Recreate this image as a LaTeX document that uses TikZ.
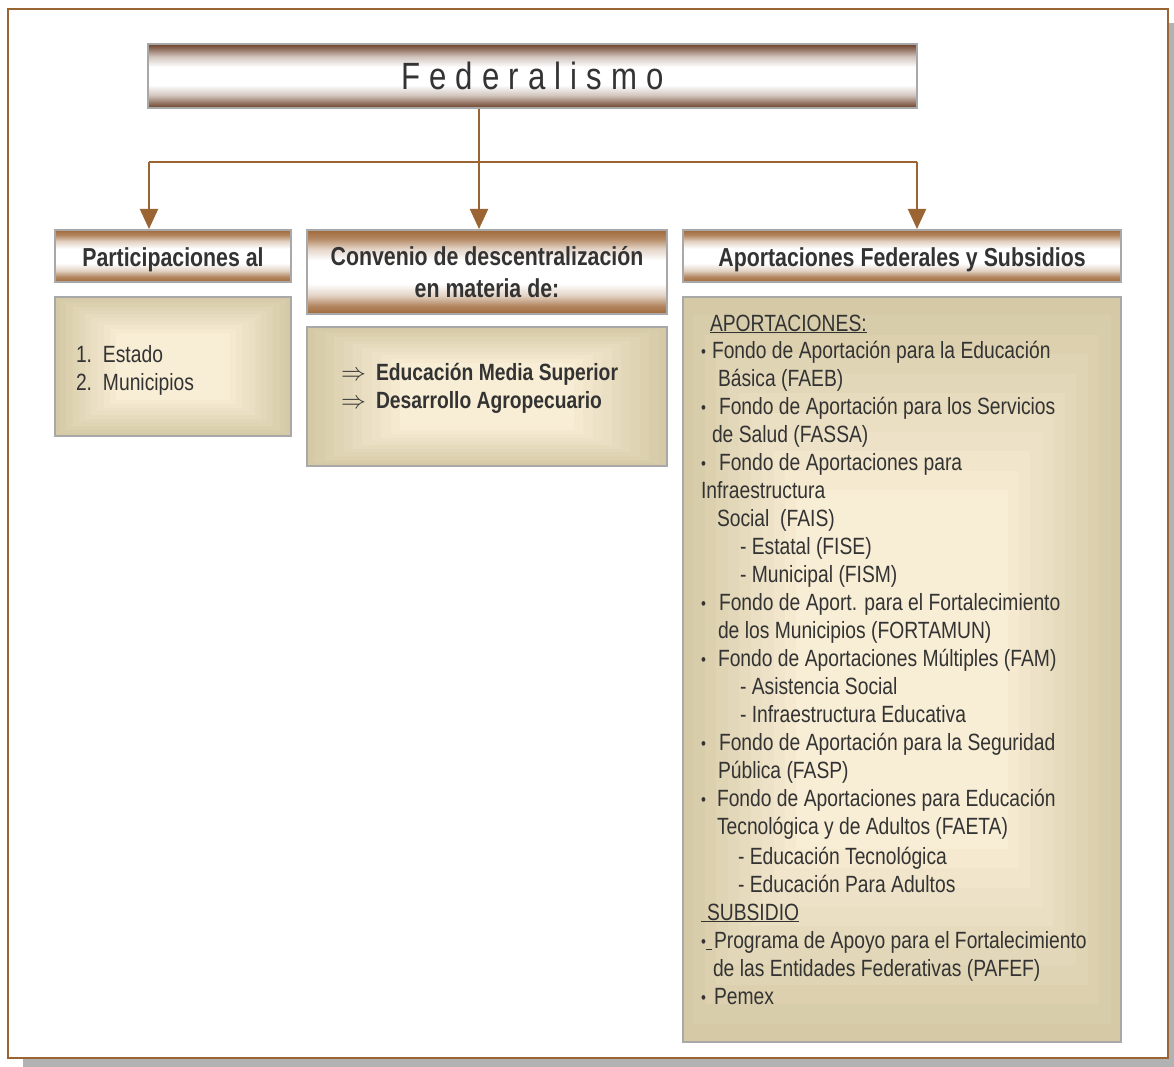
\documentclass[tikz,border=0pt]{standalone}
\usepackage{fontspec}
\setmainfont{Liberation Sans}[FakeStretch=0.82]
\newfontfamily\titlefont{Liberation Sans}[FakeStretch=0.82,LetterSpace=24]
\usetikzlibrary{arrows.meta,calc}
\definecolor{brn}{HTML}{9B6433}
\definecolor{hdrb}{HTML}{A0693A}
\definecolor{ttlb}{HTML}{6B4029}
\definecolor{boxgray}{HTML}{A8A8A8}
\definecolor{shadowgray}{HTML}{B2B2B2}
\definecolor{tanout}{HTML}{D5C9A6}
\definecolor{tanin}{HTML}{F8EDD5}
\definecolor{txt}{HTML}{333333}
\pgfdeclareverticalshading{hdrshade}{100bp}{color(0bp)=(hdrb); color(25bp)=(hdrb); color(30bp)=(hdrb!80!white); color(36bp)=(hdrb!30!white); color(43bp)=(white); color(57bp)=(white); color(64bp)=(hdrb!30!white); color(70bp)=(hdrb!80!white); color(75bp)=(hdrb); color(100bp)=(hdrb)}
\pgfdeclareverticalshading{ttlshade}{100bp}{color(0bp)=(ttlb); color(25bp)=(ttlb); color(28bp)=(ttlb!80!white); color(35bp)=(ttlb!30!white); color(43bp)=(white); color(57bp)=(white); color(65bp)=(ttlb!30!white); color(72bp)=(ttlb!80!white); color(75bp)=(ttlb); color(100bp)=(ttlb)}
\tikzset{
  conn/.style={draw=brn, line width=2pt},
  arr/.style={conn, -{Triangle[width=18pt,length=20pt]}},
  ttlbox/.style={shade, shading=ttlshade, draw=boxgray, line width=2pt, inner sep=0pt},
  hdrbox/.style={shade, shading=hdrshade, draw=boxgray, line width=2pt, inner sep=0pt, align=center, font=\fontsize{26}{32}\selectfont\bfseries},
  bodybox/.style={fill=tanout, draw=boxgray, line width=2pt, inner sep=0pt},
  bodytxt/.style={anchor=base west, inner sep=0pt, outer sep=0pt, font=\fontsize{23.5}{28}\selectfont},
}
\newcommand\bul{{\fontsize{17}{17}\selectfont\raisebox{1pt}{•}}}
\newcommand\tansteps[1]{%
  \foreach \i in {1,...,10}{%
    \pgfmathsetmacro\f{0.026*\i}%
    \pgfmathtruncatemacro\p{\i*10}%
    \fill[tanin!\p!tanout] ($(#1.north west)!\f!(#1.south east)$) rectangle ($(#1.south east)!\f!(#1.north west)$);
  }}
\begin{document}
\begin{tikzpicture}[x=1pt,y=-1pt, every node/.style={text=txt}]
\useasboundingbox (0,0) rectangle (1174,1067);
% frame
\fill[shadowgray] (23,23) rectangle (1174,1067);
\draw[brn, line width=2.5pt, fill=white] (8,9) rectangle (1168,1058);
% title
\node[ttlbox, minimum width=769pt, minimum height=64pt] (title) at (532.5,76) {\titlefont\fontsize{38}{40}\selectfont Federalismo};
% headers
\node[hdrbox, minimum width=236pt, minimum height=52pt, text height=24pt, text depth=3.4pt] (h1) at (173,256) {Participaciones al};
\node[hdrbox, minimum width=360pt, minimum height=84pt] (h2) at (487,272) {Convenio de descentralización\\en materia de:};
\node[hdrbox, minimum width=438pt, minimum height=52pt, text height=24pt, text depth=3.4pt] (h3) at (902,256) {Aportaciones Federales y Subsidios};
% connectors
\coordinate (j1) at (149,162);
\coordinate (j2) at (479,162);
\coordinate (j3) at (917,162);
\draw[conn] (j2 |- title.south) -- (j2);
\draw[conn] (j1) -- (j3);
\draw[arr] (j1) -- (j1 |- h1.north);
\draw[arr] (j2) -- (j2 |- h2.north);
\draw[arr] (j3) -- (j3 |- h3.north);
% bodies
\node[bodybox, minimum width=236pt, minimum height=139pt] (b1) at (173,366.5) {};
\tansteps{b1}
\node[bodybox, minimum width=360pt, minimum height=139pt] (b2) at (487,396.5) {};
\tansteps{b2}
\node[bodybox, minimum width=438pt, minimum height=745pt] (b3) at (902,669.5) {};
\tansteps{b3}
% body 1
\node[bodytxt] (p1) at (76,362) {\makebox[27pt][l]{1.}Estado};
\node[bodytxt] (p2) at (76,390) {\makebox[27pt][l]{2.}Municipios};
% body 2
\node[bodytxt, font=\fontsize{23.5}{28}\selectfont\bfseries] (c1) at (341,380) {\makebox[35pt][l]{$\Rightarrow$}Educación Media Superior};
\node[bodytxt, font=\fontsize{23.5}{28}\selectfont\bfseries] (c2) at (341,408) {\makebox[35pt][l]{$\Rightarrow$}Desarrollo Agropecuario};
% body 3
\node[bodytxt] (a1) at (710,331) {\underline{APORTACIONES:}};
\node[bodytxt] (a2) at (701,358) {\makebox[11pt][l]{\bul}Fondo de Aportación para la Educación};
\node[bodytxt] (a3) at (718,386) {Básica (FAEB)};
\node[bodytxt] (a4) at (701,414) {\makebox[18pt][l]{\bul}Fondo de Aportación para los Servicios};
\node[bodytxt] (a5) at (712,442) {de Salud (FASSA)};
\node[bodytxt] (a6) at (701,470) {\makebox[18pt][l]{\bul}Fondo de Aportaciones para};
\node[bodytxt] (a7) at (701,498) {Infraestructura};
\node[bodytxt] (a8) at (717,526) {Social\ \ (FAIS)};
\node[bodytxt] (a9) at (740,554) {- Estatal (FISE)};
\node[bodytxt] (a10) at (740,582) {- Municipal (FISM)};
\node[bodytxt] (a11) at (701,610) {\makebox[18pt][l]{\bul}Fondo de Aport. para el Fortalecimiento};
\node[bodytxt] (a12) at (718,638) {de los Municipios (FORTAMUN)};
\node[bodytxt] (a13) at (701,666) {\makebox[17pt][l]{\bul}Fondo de Aportaciones Múltiples (FAM)};
\node[bodytxt] (a14) at (740,694) {- Asistencia Social};
\node[bodytxt] (a15) at (740,722) {- Infraestructura Educativa};
\node[bodytxt] (a16) at (701,750) {\makebox[18pt][l]{\bul}Fondo de Aportación para la Seguridad};
\node[bodytxt] (a17) at (718,778) {Pública (FASP)};
\node[bodytxt] (a18) at (701,806) {\makebox[16pt][l]{\bul}Fondo de Aportaciones para Educación};
\node[bodytxt] (a19) at (717,834) {Tecnológica y de Adultos (FAETA)};
\node[bodytxt] (a20) at (738,864) {- Educación Tecnológica};
\node[bodytxt] (a21) at (738,892) {- Educación Para Adultos};
\node[bodytxt] (a22) at (701,920) {\underline{\hspace{6pt}SUBSIDIO}};
\node[bodytxt] (a23) at (701,948) {\makebox[13pt][l]{\bul\underline{\hspace{6pt}}}Programa de Apoyo para el Fortalecimiento};
\node[bodytxt] (a24) at (713,976) {de las Entidades Federativas (PAFEF)};
\node[bodytxt] (a25) at (701,1004) {\makebox[13pt][l]{\bul}Pemex};
\end{tikzpicture}
\end{document}
